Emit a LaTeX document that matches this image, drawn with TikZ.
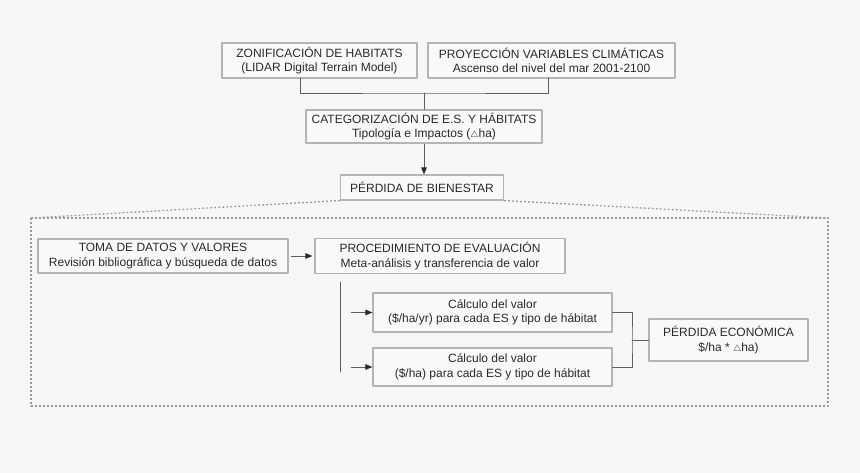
\documentclass[tikz,border=0pt]{standalone}
\usepackage{fontspec}
\setmainfont{Liberation Sans}
\usetikzlibrary{arrows.meta}
\definecolor{bgcol}{HTML}{F7F7F7}
\definecolor{boxfill}{HTML}{F9F9F9}
\definecolor{boxline}{HTML}{B4B4B4}
\definecolor{linkcol}{HTML}{5E5E5E}
\definecolor{txtcol}{HTML}{2A2A2A}
\definecolor{dotcol}{HTML}{999999}
\newcommand{\tridelta}{{\fontsize{9.5}{10}\selectfont$\triangle$}}
\begin{document}
\begin{tikzpicture}[x=1pt, y=-1pt, line cap=round, line join=round,
    box/.style={draw=boxline, fill=boxfill, line width=1.1pt, text=txtcol, align=center,
      font=\fontsize{12}{14.5}\selectfont, inner sep=0pt},
    link/.style={draw=linkcol, line width=0.9pt},
    arr/.style={link, line cap=butt, -{Triangle[length=7pt,width=5.5pt,color=txtcol]}},
    dotrule/.style={draw=dotcol, line width=1.3pt, line cap=butt, dash pattern=on 1.8pt off 2.2pt}]
    \fill[bgcol] (0,0) rectangle (860,473);
    \node[box, minimum width=195, minimum height=35] (zonif) at (319.5,60.5) {ZONIFICACIÓN DE HABITATS\\(LIDAR Digital Terrain Model)};
    \node[box, minimum width=247, minimum height=35] (proy) at (551.5,60.5) {PROYECCIÓN VARIABLES CLIMÁTICAS\\Ascenso del nivel del mar 2001-2100};
    \node[box, minimum width=236, minimum height=33] (categ) at (424,126.5) {CATEGORIZACIÓN DE E.S. Y HÁBITATS\\Tipología e Impactos (\tridelta ha)};
    \node[box, minimum width=163, minimum height=25] (bienestar) at (422,187.5) {PÉRDIDA DE BIENESTAR};
    \coordinate (legz) at (300,78);
    \coordinate (legp) at (548,78);
    \coordinate (join) at (424,93);
    \draw[link] (legz) |- (join) -| (legp);
    \draw[link] (join) -- (categ.north);
    \draw[arr] (categ.south) -- (categ.south |- bienestar.north);
    \coordinate (frameNW) at (31,218);
    \coordinate (frameNE) at (828,218);
    \coordinate (frameSE) at (828,406);
    \draw[dotrule] (frameNW) rectangle (frameSE);
    \draw[dotrule] (bienestar.south west) -- (frameNW);
    \draw[dotrule] (bienestar.south east) -- (frameNE);
    \node[box, minimum width=250, minimum height=34] (toma) at (163,256) {TOMA DE DATOS Y VALORES\\Revisión bibliográfica y búsqueda de datos};
    \node[box, minimum width=250, minimum height=35] (proc) at (440,256) {PROCEDIMIENTO DE EVALUACIÓN\\Meta-análisis y transferencia de valor};
    \draw[arr, shorten <=2pt, shorten >=2pt] (toma.east) -- (proc.west);
    \node[box, minimum width=239, minimum height=39] (calc1) at (492.5,312.5) {Cálculo del valor\\(\$/ha/yr) para cada ES y tipo de hábitat};
    \node[box, minimum width=239, minimum height=38] (calc2) at (492.5,367) {Cálculo del valor\\(\$/ha) para cada ES y tipo de hábitat};
    \node[box, minimum width=159, minimum height=42] (econ) at (728.5,340) {PÉRDIDA ECONÓMICA\\\$/ha * \tridelta ha)};
    \coordinate (splitA) at (340,282);
    \coordinate (splitB) at (340,372);
    \draw[link] (splitA) -- (splitB);
    \coordinate (feed1) at (351,312.5);
    \coordinate (feed2) at (351,367);
    \foreach \n in {1,2} \draw[arr] (feed\n) -- (calc\n.west);
    \coordinate (fork) at (632,340);
    \draw[link] (calc1.east) -| (fork) |- (calc2.east);
    \draw[link] (fork) -- (econ.west);
  \end{tikzpicture}
\end{document}
